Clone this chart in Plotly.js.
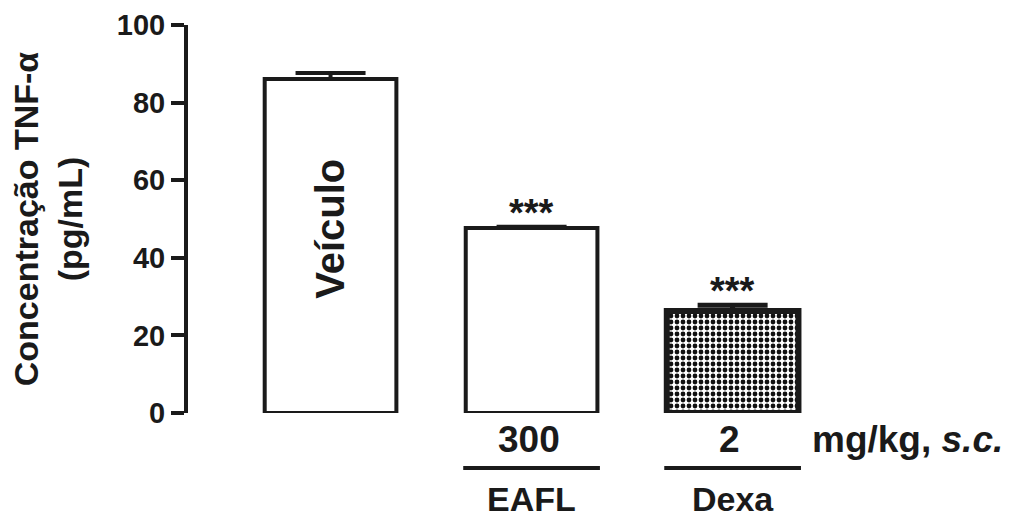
<!DOCTYPE html>
<html>
<head>
<meta charset="utf-8">
<script src="https://cdn.plot.ly/plotly-3.0.1.min.js"></script>
<style>html,body{margin:0;padding:0;background:#fff;}#chart{width:1016px;height:520px;}</style>
</head>
<body>
<div id="chart"></div>
<script>
// ---- data ----
const groups   = ['Veículo', 'EAFL', 'Dexa'];
const doses    = ['', '300', '2'];
const means    = [86.1, 47.7, 26.3];
const sems     = [1.5, 0.3, 1.5];
const signif   = ['', '***', '***'];
const yTicks   = [0, 20, 40, 60, 80, 100];
const doseUnit = 'mg/kg, <i>s.c.</i>';

const INK = '#1a1a1a';
const FONT = 'Liberation Sans, Arial, Helvetica, sans-serif';
const xPos = groups.map((g, i) => i);

const traces = groups.map((g, i) => ({
  type: 'bar',
  x: [xPos[i]],
  y: [means[i]],
  width: 0.655,
  name: g,
  cliponaxis: false,
  marker: {
    color: '#ffffff',
    line: { color: INK, width: i === 2 ? 6 : 4 },
    pattern: i === 2
      ? { shape: '.', size: 6, solidity: 0.5, fgcolor: '#111', bgcolor: '#ffffff', fillmode: 'replace' }
      : { shape: '' }
  },
  error_y: {
    type: 'data', symmetric: false,
    array: [sems[i]], arrayminus: [0],
    width: 35, thickness: i === 2 ? 5 : 4, color: INK
  },
  hoverinfo: 'skip'
}));

const annotations = [];
// label inside the vehicle bar
annotations.push({
  x: xPos[0], y: means[0] * 0.55, xref: 'x', yref: 'y',
  text: groups[0], textangle: -90, showarrow: false,
  font: { family: FONT, size: 40, color: INK, weight: 700 }
});
groups.forEach((g, i) => {
  if (signif[i]) {
    annotations.push({
      x: xPos[i], y: means[i] + sems[i], xref: 'x', yref: 'y',
      text: signif[i], showarrow: false, yanchor: 'bottom', yshift: -9,
      font: { family: FONT, size: 38, color: INK, weight: 700 }
    });
  }
  if (doses[i]) {
    annotations.push({
      x: xPos[i], y: 0, xref: 'x', yref: 'paper',
      text: doses[i], showarrow: false, yanchor: 'middle', yshift: -26, xshift: -3,
      font: { family: FONT, size: 37, color: INK, weight: 700 }
    });
  }
  if (i > 0) {
    annotations.push({
      x: xPos[i], y: 0, xref: 'x', yref: 'paper',
      text: g, showarrow: false, yanchor: 'middle', yshift: -86,
      font: { family: FONT, size: 34, color: INK, weight: 700 }
    });
  }
});
annotations.push({
  x: xPos[2] + 0.386, y: 0, xref: 'x', yref: 'paper',
  text: doseUnit, showarrow: false, xanchor: 'left', yanchor: 'middle', yshift: -26,
  font: { family: FONT, size: 37, color: INK, weight: 700 }
});

const shapes = xPos.slice(1).map(x => ({
  type: 'line', xref: 'x', yref: 'paper',
  x0: x - 0.34, x1: x + 0.34, y0: -0.1418, y1: -0.1418,
  line: { color: INK, width: 4 }
}));

const layout = {
  width: 1016, height: 520,
  margin: { l: 188, r: 16, t: 25, b: 107 },
  paper_bgcolor: '#ffffff', plot_bgcolor: '#ffffff',
  showlegend: false,
  barmode: 'overlay',
  font: { family: FONT, color: INK },
  xaxis: {
    range: [-0.709, 3.33], showticklabels: false, showline: false,
    zeroline: false, showgrid: false, ticks: '', fixedrange: true
  },
  yaxis: {
    range: [0, 100], tickvals: yTicks, ticktext: yTicks.map(String),
    ticks: 'outside', ticklen: 13, tickwidth: 4, tickcolor: INK,
    showline: true, linewidth: 4, linecolor: INK,
    showgrid: false, zeroline: false,
    tickfont: { family: FONT, size: 29, color: INK, weight: 700 },
    title: {
      text: 'Concentração TNF-α<br>(pg/mL)', standoff: 25,
      font: { family: FONT, size: 34, color: INK, weight: 700 }
    }
  },
  annotations: annotations,
  shapes: shapes
};

Plotly.newPlot('chart', traces, layout, { displayModeBar: false, staticPlot: true });
</script>
</body>
</html>
